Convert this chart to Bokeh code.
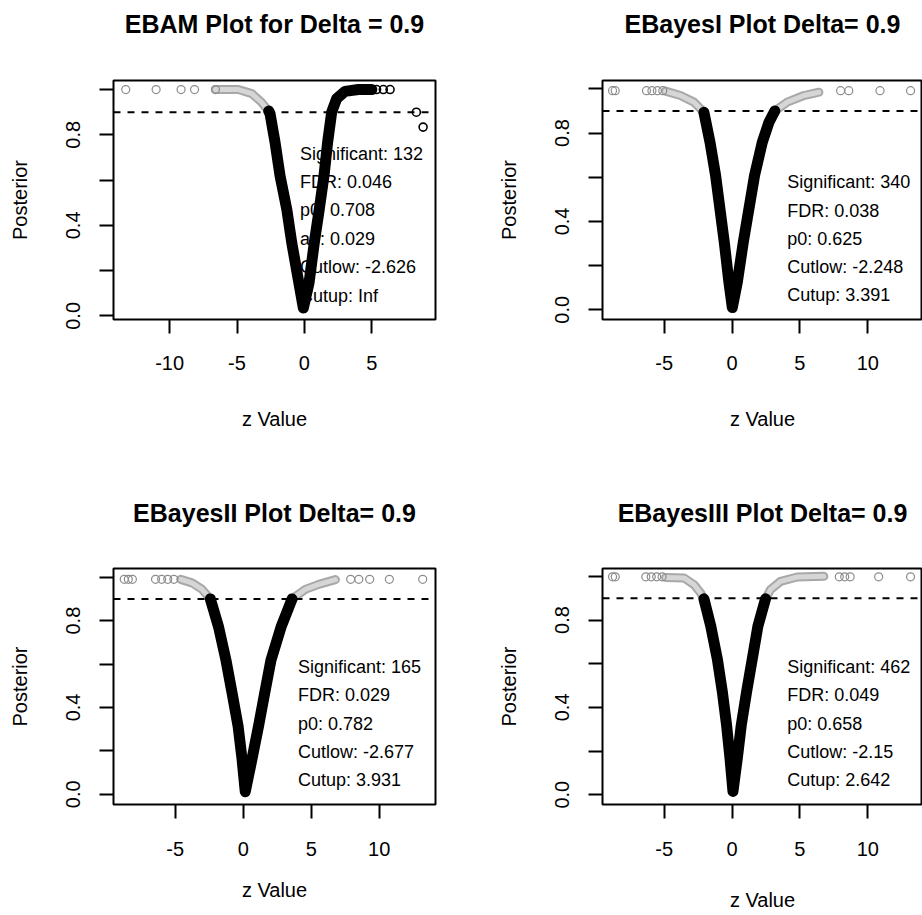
from bokeh.plotting import figure
from bokeh.layouts import column, row
from bokeh.models import FixedTicker, CustomJSTickFormatter, Span, Range1d, LinearAxis, Title
from bokeh.core.properties import value
from bokeh.embed import file_html
from bokeh.resources import INLINE

FONT = "Liberation Sans"

# ---------------- data ----------------
titles = ["EBAM Plot for Delta = 0.9", "EBayesI Plot Delta= 0.9",
          "EBayesII Plot Delta= 0.9", "EBayesIII Plot Delta= 0.9"]
x_label = "z Value"
y_label = "Posterior"
delta = 0.9

# Panel 1: EBAM
ebam_gray_x = [-6.6, -4.9, -3.9, -3.2, -2.65]
ebam_gray_y = [1.0, 1.0, 0.982, 0.945, 0.905]
ebam_black_x = [-2.65, -2.55, -2.18, -1.81, -1.31, -0.94, -0.5, -0.08, 0.34, 0.73,
                1.1, 1.45, 1.72, 2.02, 2.39, 3.01, 4.0, 5.0]
ebam_black_y = [0.905, 0.893, 0.767, 0.619, 0.471, 0.323, 0.175, 0.035, 0.145, 0.323,
                0.471, 0.619, 0.767, 0.9, 0.96, 0.992, 1.0, 1.0]
ebam_gpts_x = [-13.25, -11.0, -9.15, -8.15, -6.6]
ebam_gpts_y = [1.0, 1.0, 1.0, 1.0, 1.0]
ebam_bpts_x = [5.35, 5.85, 6.35, 8.3, 8.8]
ebam_bpts_y = [1.0, 1.0, 1.0, 0.9, 0.834]
ebam_text = ["Significant: 132", "FDR: 0.046", "p0: 0.708", "a0: 0.029",
             "Cutlow: -2.626", "Cutup: Inf"]
ebam_text_x = [-0.33] * 6
ebam_text_y = [0.716, 0.593, 0.467, 0.341, 0.215, 0.09]

# Panel 2: EBayesI
e1_glx = [-4.9, -3.8, -2.8, -2.07]
e1_gly = [0.99, 0.97, 0.94, 0.894]
e1_bx = [-2.07, -1.62, -1.21, -0.57, -0.23, 0.02, 0.39, 0.83, 1.66, 2.23, 2.72, 3.15]
e1_by = [0.894, 0.758, 0.608, 0.306, 0.125, 0.01, 0.125, 0.306, 0.608, 0.758, 0.849, 0.9]
e1_grx = [3.15, 4.07, 5.29, 6.4]
e1_gry = [0.9, 0.94, 0.97, 0.985]
e1_pts_x = [-8.8, -8.6, -6.3, -5.9, -5.5, -5.1, 8.0, 8.6, 10.9, 13.15]
e1_pts_y = [0.992] * 10
e1_text = ["Significant: 340", "FDR: 0.038", "p0: 0.625", "Cutlow: -2.248", "Cutup: 3.391"]
e1_text_x = [4.07] * 5
e1_text_y = [0.577, 0.449, 0.321, 0.193, 0.065]

# Panel 3: EBayesII
e2_glx = [-4.6, -3.77, -3.03, -2.42]
e2_gly = [0.99, 0.974, 0.944, 0.9]
e2_bx = [-2.42, -1.81, -1.27, -0.82, -0.38, -0.09, 0.15, 0.65, 1.13, 1.58, 2.04, 2.78, 3.59]
e2_by = [0.9, 0.77, 0.618, 0.467, 0.315, 0.164, 0.012, 0.164, 0.315, 0.467, 0.618, 0.77, 0.9]
e2_grx = [3.59, 4.57, 5.55, 6.78]
e2_gry = [0.9, 0.944, 0.967, 0.989]
e2_pts_x = [-8.75, -8.45, -8.15, -6.45, -6.0, -5.55, -5.1, 7.9, 8.5, 9.3, 10.75, 13.2]
e2_pts_y = [0.99] * 12
e2_text = ["Significant: 165", "FDR: 0.029", "p0: 0.782", "Cutlow: -2.677", "Cutup: 3.931"]
e2_text_x = [4.03] * 5
e2_text_y = [0.585, 0.456, 0.323, 0.194, 0.068]

# Panel 4: EBayesIII
e3_glx = [-4.9, -3.54, -2.8, -2.31, -2.07]
e3_gly = [0.995, 0.993, 0.962, 0.924, 0.897]
e3_bx = [-2.07, -1.57, -1.08, -0.71, -0.4, -0.15, 0.07, 0.39, 0.68, 1.07, 1.49, 1.91, 2.47]
e3_by = [0.897, 0.773, 0.621, 0.47, 0.318, 0.167, 0.015, 0.167, 0.318, 0.47, 0.621, 0.773, 0.897]
e3_grx = [2.47, 2.84, 3.58, 4.8, 6.76]
e3_gry = [0.897, 0.94, 0.977, 0.997, 1.0]
e3_pts_x = [-8.8, -8.6, -6.35, -5.95, -5.55, -5.15, 7.9, 8.3, 8.7, 10.8, 13.15]
e3_pts_y = [0.998] * 11
e3_text = ["Significant: 462", "FDR: 0.049", "p0: 0.658", "Cutlow: -2.15", "Cutup: 2.642"]
e3_text_x = [4.07] * 5
e3_text_y = [0.584, 0.455, 0.326, 0.197, 0.068]

y_ticks_labeled = [0.0, 0.4, 0.8]
y_ticks_unlabeled = [0.2, 0.6, 1.0]
x_ticks_ebam = [-10, -5, 0, 5]
x_ticks_ebayes = [-5, 0, 5, 10]


def panel(title, width, height, borders, xr, yr, xticks, title_gap,
          xlab_standoff, xaxlab_standoff):
    bl, br, bt, bb = borders
    p = figure(width=width, height=height, output_backend="svg", toolbar_location=None,
               title=None,
               x_range=Range1d(*xr), y_range=Range1d(*yr),
               min_border_left=bl, min_border_right=br,
               min_border_top=bt, min_border_bottom=bb)
    # invisible spacer (a tick-only axis with hidden tick) between frame and title
    spacer = LinearAxis(ticker=FixedTicker(ticks=[0], minor_ticks=[]),
                        formatter=CustomJSTickFormatter(code="return ''"),
                        axis_line_color=None,
                        major_tick_line_color=None, minor_tick_line_color=None,
                        major_tick_out=title_gap, major_tick_in=0, minor_tick_out=0,
                        major_label_text_font_size="1px",
                        major_label_standoff=0, axis_label_standoff=0)
    p.add_layout(spacer, "above")
    t = Title(text=title, align="center", text_font=FONT, text_font_size="25px",
              text_font_style="bold", text_color="black", standoff=10)
    p.add_layout(t, "above")
    p.grid.visible = False
    p.outline_line_color = "black"
    p.outline_line_width = 2
    p.background_fill_color = "white"
    p.border_fill_color = "white"

    xa = p.below[0]
    xa.ticker = FixedTicker(ticks=xticks, minor_ticks=[])
    xa.formatter = CustomJSTickFormatter(code="return tick.toFixed(0)")
    xa.axis_line_color = None
    xa.major_tick_out = 14
    xa.major_tick_in = 0
    xa.major_tick_line_width = 2
    xa.major_tick_line_color = "black"
    xa.minor_tick_line_color = None
    xa.major_label_text_font = FONT
    xa.major_label_text_font_size = "20px"
    xa.major_label_text_color = "black"
    xa.major_label_standoff = xlab_standoff
    xa.axis_label = x_label
    xa.axis_label_text_font = FONT
    xa.axis_label_text_font_size = "20px"
    xa.axis_label_text_font_style = "normal"
    xa.axis_label_text_color = "black"
    xa.axis_label_standoff = xaxlab_standoff

    ya = p.left[0]
    ya.ticker = FixedTicker(ticks=y_ticks_labeled, minor_ticks=y_ticks_unlabeled)
    ya.formatter = CustomJSTickFormatter(code="return tick.toFixed(1)")
    ya.axis_line_color = None
    ya.major_tick_out = 14
    ya.major_tick_in = 0
    ya.major_tick_line_width = 2
    ya.major_tick_line_color = "black"
    ya.minor_tick_out = 14
    ya.minor_tick_in = 0
    ya.minor_tick_line_width = 2
    ya.minor_tick_line_color = "black"
    ya.major_label_orientation = "vertical"
    ya.major_label_text_font = FONT
    ya.major_label_text_font_size = "20px"
    ya.major_label_text_color = "black"
    ya.major_label_standoff = 19
    ya.axis_label = y_label
    ya.axis_label_text_font = FONT
    ya.axis_label_text_font_size = "20px"
    ya.axis_label_text_font_style = "normal"
    ya.axis_label_text_color = "black"
    ya.axis_label_standoff = 33
    return p


def gray_band(p, x, y):
    p.line(x, y, line_width=9, line_color="#a8a8a8", line_join="round", line_cap="round")
    p.line(x, y, line_width=5, line_color="#d6d6d6", line_join="round", line_cap="round")


def black_band(p, x, y):
    p.line(x, y, line_width=11, line_color="black", line_join="round", line_cap="round")


def gray_pts(p, x, y):
    p.scatter(x, y, marker="circle", size=8, fill_color=None,
              line_color="#8c8c8c", line_width=1.2)


def black_pts(p, x, y):
    p.scatter(x, y, marker="circle", size=8, fill_color=None,
              line_color="black", line_width=1.6)


def finish(p, tx, ty, tt):
    p.add_layout(Span(location=delta, dimension="width", line_color="black",
                      line_width=2, line_dash="7 7"))
    p.text(x=tx, y=ty, text=tt, text_font=value(FONT), text_font_size="18px",
           text_align="left", text_baseline="middle", text_color="black")


# Panel 1
p1 = panel(titles[0], 488, 487, (113, 53, 80, 168), (-14.16, 9.72), (-0.016, 1.04),
           x_ticks_ebam, 38, 22, 35)
gray_band(p1, ebam_gray_x, ebam_gray_y)
black_band(p1, ebam_black_x, ebam_black_y)
gray_pts(p1, ebam_gpts_x, ebam_gpts_y)
black_pts(p1, ebam_bpts_x, ebam_bpts_y)
finish(p1, ebam_text_x, ebam_text_y, ebam_text)

# Panel 2
p2 = panel(titles[1], 434, 487, (114, 0, 80, 168), (-9.54, 14.03), (-0.044, 1.038),
           x_ticks_ebayes, 38, 22, 35)
gray_band(p2, e1_glx, e1_gly)
gray_band(p2, e1_grx, e1_gry)
black_band(p2, e1_bx, e1_by)
gray_pts(p2, e1_pts_x, e1_pts_y)
finish(p2, e1_text_x, e1_text_y, e1_text)

# Panel 3
p3 = panel(titles[2], 488, 426, (113, 53, 81, 106), (-9.54, 14.14), (-0.047, 1.04),
           x_ticks_ebayes, 37, 23, 20)
gray_band(p3, e2_glx, e2_gly)
gray_band(p3, e2_grx, e2_gry)
black_band(p3, e2_bx, e2_by)
gray_pts(p3, e2_pts_x, e2_pts_y)
finish(p3, e2_text_x, e2_text_y, e2_text)

# Panel 4
p4 = panel(titles[3], 434, 426, (114, 0, 81, 106), (-9.54, 14.03), (-0.045, 1.036),
           x_ticks_ebayes, 37, 23, 30)
gray_band(p4, e3_glx, e3_gly)
gray_band(p4, e3_grx, e3_gry)
black_band(p4, e3_bx, e3_by)
gray_pts(p4, e3_pts_x, e3_pts_y)
finish(p4, e3_text_x, e3_text_y, e3_text)

layout = column(row(p1, p2), row(p3, p4))
open("out.html", "w").write(file_html(layout, INLINE))
